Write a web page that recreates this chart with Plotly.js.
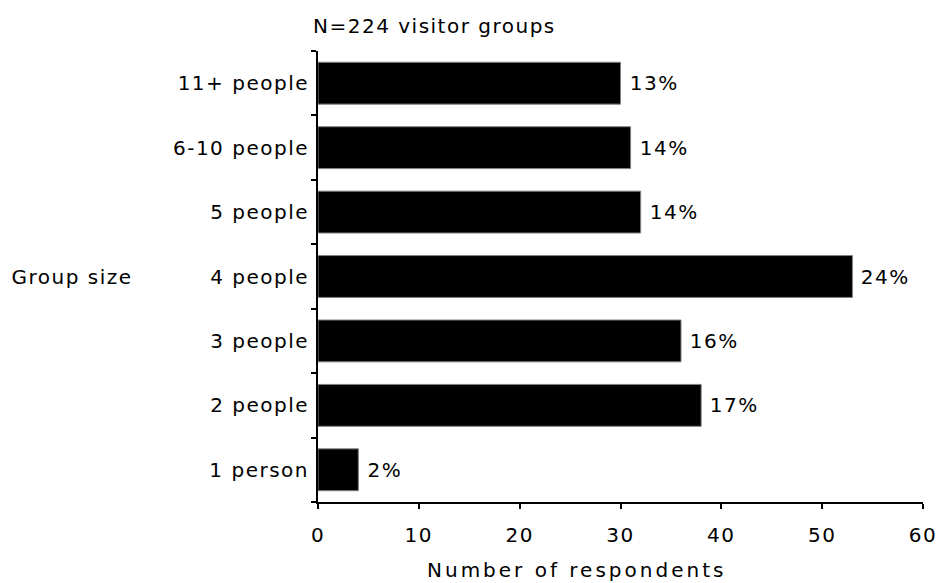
<!DOCTYPE html>
<html><head><meta charset="utf-8">
<script src="https://cdn.plot.ly/plotly-3.0.1.min.js"></script>
<style>html,body{margin:0;padding:0;background:#fff}#chart{width:941px;height:583px}
#chart svg text{letter-spacing:1.5px}</style>
</head><body><div id="chart"></div>
<script>
const categories = ["1 person","2 people","3 people","4 people","5 people","6-10 people","11+ people"];
const respondents = [4,38,36,53,32,31,30];
const percentLabels = ["2%","17%","16%","24%","14%","14%","13%"];
const xTickValues = [0,10,20,30,40,50,60];
const chartTitle = "N=224 visitor groups";
const xTitle = "Number of respondents";
const yTitle = "Group size";

const font = {family: "DejaVu Sans, Verdana, sans-serif", size: 20, color: "#000"};
const trace = {type:'bar', orientation:'h', x: respondents, y: categories,
  marker:{color:'#000', line:{color:'#808080', width:1}}, hoverinfo:'none'};

const annotations = respondents.map((v,i)=>({x:v, y:categories[i], xref:'x', yref:'y',
  text:percentLabels[i], showarrow:false, xanchor:'left', xshift:9, font}));
annotations.push({text:chartTitle, xref:'paper', yref:'paper', x:0, y:1, xanchor:'left',
  yanchor:'middle', yshift:25, xshift:8, showarrow:false, font});
annotations.push({text:yTitle, xref:'paper', yref:'y', x:-0.498, y:categories[3],
  xanchor:'left', showarrow:false, font});
annotations.push({text:'<span style="letter-spacing:3px">' + xTitle + '</span>', xref:'paper', yref:'paper',
  x:0.428, y:0, xanchor:'center', yanchor:'middle', yshift:-68, showarrow:false, font});

const boundaries = categories.map((c,i)=>i-0.5).concat([categories.length-0.5]);

const layout = {
  width:941, height:583, margin:{l:318, r:18, t:51, b:81},
  paper_bgcolor:'#fff', plot_bgcolor:'#fff', font, showlegend:false, bargap:0.35,
  xaxis:{range:[0,60], tickmode:'array', tickvals:xTickValues, ticks:'outside', ticklen:5, tickwidth:2,
    tickcolor:'#000', showline:true, linewidth:2, linecolor:'#000', showgrid:false, zeroline:false,
    tickfont:font, ticklabelstandoff:9, fixedrange:true},
  xaxis2:{overlaying:'x', anchor:'y', side:'bottom', range:[0,60], tickmode:'array', tickvals:xTickValues,
    ticks:'inside', ticklen:5, tickwidth:2, tickcolor:'#000', showticklabels:false, showline:false,
    showgrid:false, zeroline:false, fixedrange:true},
  yaxis:{type:'category', categoryorder:'array', categoryarray:categories, range:[-0.5, categories.length-0.5],
    tickson:'boundaries', ticks:'outside', ticklen:5, tickwidth:2, tickcolor:'#000', showline:true,
    linewidth:2, linecolor:'#000', showgrid:false, zeroline:false, tickfont:font, ticklabelstandoff:3, fixedrange:true},
  yaxis2:{overlaying:'y', anchor:'x', side:'left', range:[-0.5, categories.length-0.5], tickmode:'array',
    tickvals:boundaries, ticks:'inside', ticklen:5, tickwidth:2, tickcolor:'#000', showticklabels:false,
    showline:false, showgrid:false, zeroline:false, fixedrange:true},
  annotations
};
Plotly.newPlot('chart', [trace], layout, {staticPlot:true, displayModeBar:false});
</script></body></html>
